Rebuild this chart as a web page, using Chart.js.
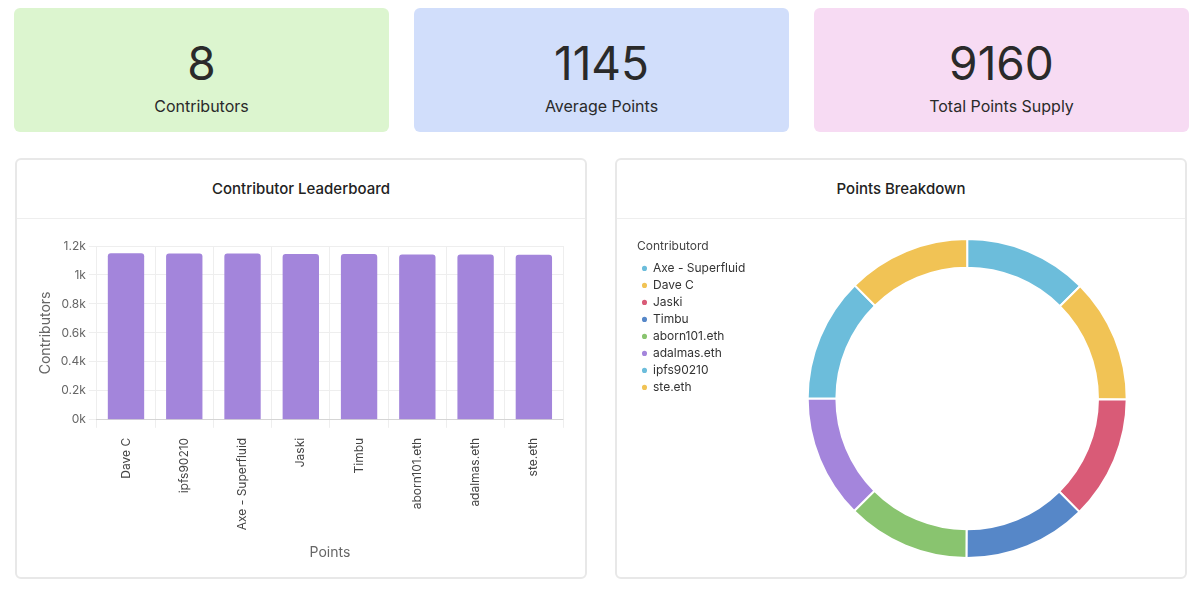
<!DOCTYPE html>
<html>
<head>
<meta charset="utf-8">
<script src="https://cdn.jsdelivr.net/npm/chart.js@4.4.0/dist/chart.umd.min.js"></script>
<style>
  body { margin: 0; background: #fff; font-family: Inter, "Noto Sans", sans-serif; color: #222; }
  .stats { position: absolute; top: 8px; left: 14px; right: 11px; height: 124px; display: flex; gap: 25px; }
  .stat { flex: 1; border-radius: 6px; text-align: center; }
  .stat .num { font-size: 46px; margin-top: 30px; line-height: 50px; color: #2a2a2a; }
  .stat .lbl { font-size: 16px; margin-top: 8px; color: #2a2a2a; }
  .panel { position: absolute; top: 158px; height: 421px; width: 572px; border: 2px solid #e8e8e8; border-radius: 6px; box-sizing: border-box; }
  .panel h3 { margin: 0; height: 58px; line-height: 58px; text-align: center; font-size: 15px; font-weight: 500; border-bottom: 1px solid #eee; color: #222; }
  .box { position: absolute; top: 66px; left: 6px; right: 6px; bottom: 8px; }
</style>
</head>
<body>
<div class="stats">
  <div class="stat" style="background:#dcf5cf"><div class="num" id="n1"></div><div class="lbl">Contributors</div></div>
  <div class="stat" style="background:#d1defb"><div class="num" id="n2"></div><div class="lbl">Average Points</div></div>
  <div class="stat" style="background:#f7dbf3"><div class="num" id="n3"></div><div class="lbl">Total Points Supply</div></div>
</div>
<div class="panel" style="left:15px"><h3>Contributor Leaderboard</h3><div class="box"><canvas id="bar"></canvas></div></div>
<div class="panel" style="left:615px"><h3>Points Breakdown</h3><div class="box"><canvas id="pie"></canvas></div></div>
<script>
const barNames = ['Dave C', 'ipfs90210', 'Axe - Superfluid', 'Jaski', 'Timbu', 'aborn101.eth', 'adalmas.eth', 'ste.eth'];
const barPoints = [1150, 1149, 1148, 1145, 1144, 1142, 1142, 1140];
const pieNames = ['Axe - Superfluid', 'Dave C', 'Jaski', 'Timbu', 'aborn101.eth', 'adalmas.eth', 'ipfs90210', 'ste.eth'];
const piePoints = [1148, 1150, 1145, 1144, 1142, 1142, 1149, 1140];
const pieColors = ['#6cbddb', '#f1c355', '#d95b77', '#5687c8', '#89c46f', '#a485dc', '#6cbddb', '#f1c355'];

const total = barPoints.reduce((a, b) => a + b, 0);
document.getElementById('n1').textContent = barPoints.length;
document.getElementById('n2').textContent = Math.round(total / barPoints.length);
document.getElementById('n3').textContent = total;

Chart.defaults.font.family = 'Inter, "Noto Sans", sans-serif';
Chart.defaults.color = '#666';

new Chart(document.getElementById('bar'), {
  type: 'bar',
  data: { labels: barNames, datasets: [{ data: barPoints, backgroundColor: '#a385db', borderRadius: 3, categoryPercentage: 0.8, barPercentage: 0.78 }] },
  options: {
    responsive: true, maintainAspectRatio: false, animation: false,
    layout: { padding: { left: 10, right: 16, top: 20, bottom: 4 } },
    plugins: { legend: { display: false } },
    scales: {
      y: { min: 0, max: 1200, ticks: { stepSize: 200, callback: v => (v / 1000) + 'k', font: { size: 12 } },
           title: { display: true, text: 'Contributors', font: { size: 14 } }, grid: { color: '#eee' }, border: { display: false } },
      x: { ticks: { minRotation: 90, maxRotation: 90, padding: 10, font: { size: 12 }, color: '#444' },
           title: { display: true, text: 'Points', font: { size: 14 } }, grid: { color: '#eee' } }
    }
  }
});

new Chart(document.getElementById('pie'), {
  type: 'doughnut',
  data: { labels: pieNames, datasets: [{ data: piePoints, backgroundColor: pieColors, borderColor: '#fff', borderWidth: 2 }] },
  options: {
    responsive: true, maintainAspectRatio: false, animation: false, cutout: '82%',
    layout: { padding: { left: 14, top: 12, bottom: 10 } },
    plugins: {
      legend: { position: 'left', align: 'start',
        title: { display: true, text: 'Contributord', position: 'start', color: '#444', font: { size: 12 }, padding: { top: 2, bottom: 3 } },
        labels: { usePointStyle: true, pointStyle: 'circle', boxWidth: 5, boxHeight: 5, padding: 5, font: { size: 12 }, color: '#333' } }
    }
  }
});
</script>
</body>
</html>
